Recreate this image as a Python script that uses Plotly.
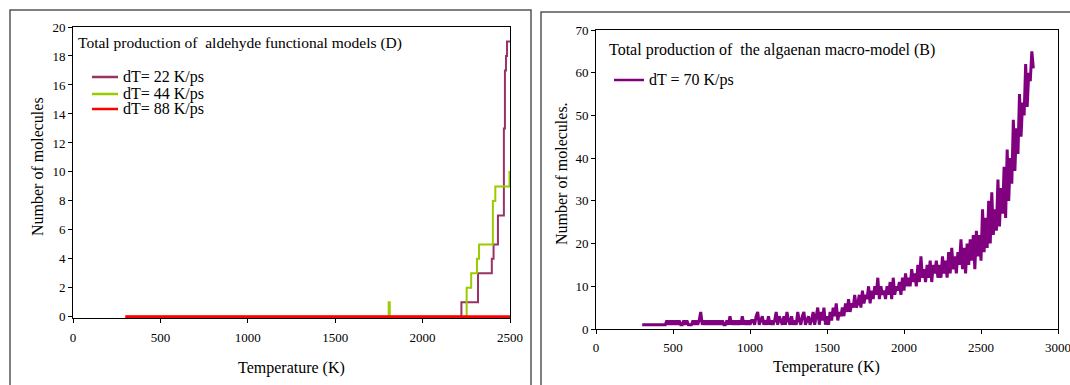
import numpy as np
import plotly.graph_objects as go

W, H = 1070, 385

# ---------------- Left panel data (step series) ----------------
t_22 = [300, 2222, 2317, 2396, 2406, 2431, 2465, 2471, 2477, 2483, 2500]
n_22 = [0, 1, 3, 4, 5, 7, 13, 17, 18, 19, 19]

t_44 = [300, 1806, 1812, 2252, 2278, 2311, 2323, 2402, 2416, 2497, 2500]
n_44 = [0, 1, 0, 2, 3, 4, 5, 8, 9, 10, 10]

t_88 = [300, 2500]
n_88 = [0, 0]

# ---------------- Right panel data (noisy count, 10 K sampling) ----------------
t_70 = np.arange(300, 2850, 10)
n_70 = [
    1, 1, 1, 1, 1, 1, 1, 1, 1, 1, 1, 1, 1, 1, 1, 1, 2, 1, 2, 1,            # 300-490
    2, 1, 2, 1, 2, 1, 1, 2, 1, 2, 1, 1, 1, 2, 1, 2, 1, 2, 4, 1,            # 500-690
    2, 1, 2, 1, 2, 1, 2, 1, 2, 1, 2, 1, 2, 1, 1, 2, 1, 3, 1, 2,            # 700-890
    1, 2, 1, 2, 1, 3, 1, 2, 1, 2, 1, 2, 2, 1, 3, 4, 1, 2, 3, 1,            # 900-1090
    2, 1, 3, 1, 2, 1, 2, 4, 1, 3, 2, 1, 3, 1, 4, 2, 1, 3, 1, 2,            # 1100-1290
    1, 4, 2, 1, 3, 4, 1, 2, 3, 1, 2, 4, 1, 3, 5, 1, 4, 2, 5, 1,            # 1300-1490
    3, 1, 4, 2, 5, 3, 6, 2, 4, 3, 5, 3, 6, 4, 7, 4, 6, 5, 8, 5,            # 1500-1690
    6, 8, 5, 9, 6, 8, 7, 10, 6, 9, 7, 10, 8, 12, 7, 10, 8, 9, 7, 10,       # 1700-1890
    8, 11, 7, 12, 8, 10, 9, 11, 8, 12, 9, 13, 10, 12, 10, 14, 11, 13, 10, 15,   # 1900-2090
    11, 17, 12, 14, 11, 15, 12, 16, 11, 15, 13, 16, 12, 15, 12, 17, 13, 16, 12, 18,  # 2100-2290
    13, 19, 14, 17, 13, 18, 15, 21, 14, 19, 13, 20, 15, 21, 16, 22, 14, 23, 17, 22,  # 2300-2490
    16, 28, 18, 26, 19, 30, 20, 32, 22, 28, 23, 35, 24, 33, 27, 38, 26, 42, 30, 40,  # 2500-2690
    34, 49, 37, 47, 41, 55, 45, 53, 50, 62, 52, 60, 58, 65, 61,            # 2700-2840
]

left_ticks_x = [0, 500, 1000, 1500, 2000, 2500]
left_ticks_y = list(range(0, 21, 2))
right_ticks_x = [0, 500, 1000, 1500, 2000, 2500, 3000]
right_ticks_y = list(range(0, 71, 10))

left_legend = ["dT= 22 K/ps", "dT= 44 K/ps", "dT= 88 K/ps"]
right_legend = "dT = 70 K/ps"

C22, C44, C88, C70 = "#993366", "#99CC00", "#FF0000", "#800080"
FONT = "Liberation Serif"


def px(x):
    return x / W


def py(y):
    return 1 - y / H


fig = go.Figure()
fig.add_trace(go.Scatter(x=t_22, y=n_22, mode="lines", line=dict(color=C22, width=2, shape="hv"),
                         name=left_legend[0], xaxis="x", yaxis="y"))
fig.add_trace(go.Scatter(x=t_44, y=n_44, mode="lines", line=dict(color=C44, width=2, shape="hv"),
                         name=left_legend[1], xaxis="x", yaxis="y"))
fig.add_trace(go.Scatter(x=t_88, y=n_88, mode="lines", line=dict(color=C88, width=3),
                         name=left_legend[2], xaxis="x", yaxis="y"))
fig.add_trace(go.Scatter(x=t_70, y=n_70, mode="lines", line=dict(color=C70, width=3),
                         name=right_legend, xaxis="x2", yaxis="y2"))


def axis(**kw):
    d = dict(showgrid=False, zeroline=False, showline=True, linecolor="black", linewidth=1,
             mirror=True, ticks="outside", ticklen=4, tickcolor="black", automargin=False,
             layer="below traces", ticklabeloverflow="allow",
             tickfont=dict(family=FONT, size=13, color="black"))
    d.update(kw)
    return d


L0, L1 = 73, 510       # left plot x pixels
R0, R1 = 596, 1058     # right plot x pixels

fig.update_layout(
    width=W, height=H, autosize=False,
    margin=dict(l=0, r=0, t=0, b=0, pad=0),
    paper_bgcolor="white", plot_bgcolor="white",
    font=dict(family=FONT, color="black", size=13),
    showlegend=False,
    xaxis=axis(domain=[px(L0), px(L1)], range=[0, 2500], tickvals=left_ticks_x, anchor="y",
               ticklabelstandoff=3),
    yaxis=axis(domain=[py(318), py(27)], range=[-0.08, 20], tickvals=left_ticks_y, anchor="x"),
    xaxis2=axis(domain=[px(R0), px(R1)], range=[0, 3000], tickvals=right_ticks_x, anchor="y2",
                ticklabelstandoff=2),
    yaxis2=axis(domain=[py(329), py(30)], range=[0, 70], tickvals=right_ticks_y, anchor="x2"),
)

ann = [
    dict(text="Total production of\u00a0 aldehyde functional models (D)", x=px(76), y=py(43),
         xanchor="left", yanchor="middle", font=dict(size=15.5)),
    dict(text="Total production of\u00a0 the algaenan macro-model (B)", x=px(607), y=py(50),
         xanchor="left", yanchor="middle", font=dict(size=16)),
    dict(text="Temperature (K)", x=px((L0 + L1) / 2), y=py(368), xanchor="center", yanchor="middle",
         font=dict(size=16)),
    dict(text="Temperature (K)", x=px(826), y=py(367), xanchor="center", yanchor="middle",
         font=dict(size=16)),
    dict(text="Number of molecules", x=px(37), y=py(167), xanchor="center", yanchor="middle",
         textangle=-90, font=dict(size=16)),
    dict(text="Number of molecules.", x=px(562), y=py(174), xanchor="center", yanchor="middle",
         textangle=-90, font=dict(size=16)),
]

shapes = [
    dict(type="rect", xref="paper", yref="paper", x0=px(10), x1=px(531), y0=-0.1, y1=py(10),
         line=dict(color="#555555", width=1.5), fillcolor="rgba(0,0,0,0)", layer="below"),
    dict(type="rect", xref="paper", yref="paper", x0=px(541), x1=1.1, y0=-0.1, y1=py(12),
         line=dict(color="#555555", width=1.5), fillcolor="rgba(0,0,0,0)", layer="below"),
]

# manual legends (tight row spacing as in the original)
left_rows = [77, 94, 109]
for label, col, yy in zip(left_legend, [C22, C44, C88], left_rows):
    shapes.append(dict(type="line", xref="paper", yref="paper", x0=px(92), x1=px(118),
                       y0=py(yy), y1=py(yy), line=dict(color=col, width=2.5)))
    ann.append(dict(text=label, x=px(121), y=py(yy), xanchor="left", yanchor="middle",
                    font=dict(size=16)))
shapes.append(dict(type="line", xref="paper", yref="paper", x0=px(614), x1=px(644),
                   y0=py(80), y1=py(80), line=dict(color=C70, width=2.5)))
ann.append(dict(text=right_legend, x=px(647), y=py(80), xanchor="left", yanchor="middle",
                font=dict(size=16)))

for a in ann:
    a.update(xref="paper", yref="paper", showarrow=False)
    a["font"].update(family=FONT, color="black")

fig.update_layout(annotations=ann, shapes=shapes)

fig.write_html(
    "out.html",
    config={"responsive": False, "displayModeBar": False},
    post_script="document.body.style.margin='0';document.body.style.overflow='hidden';",
)
